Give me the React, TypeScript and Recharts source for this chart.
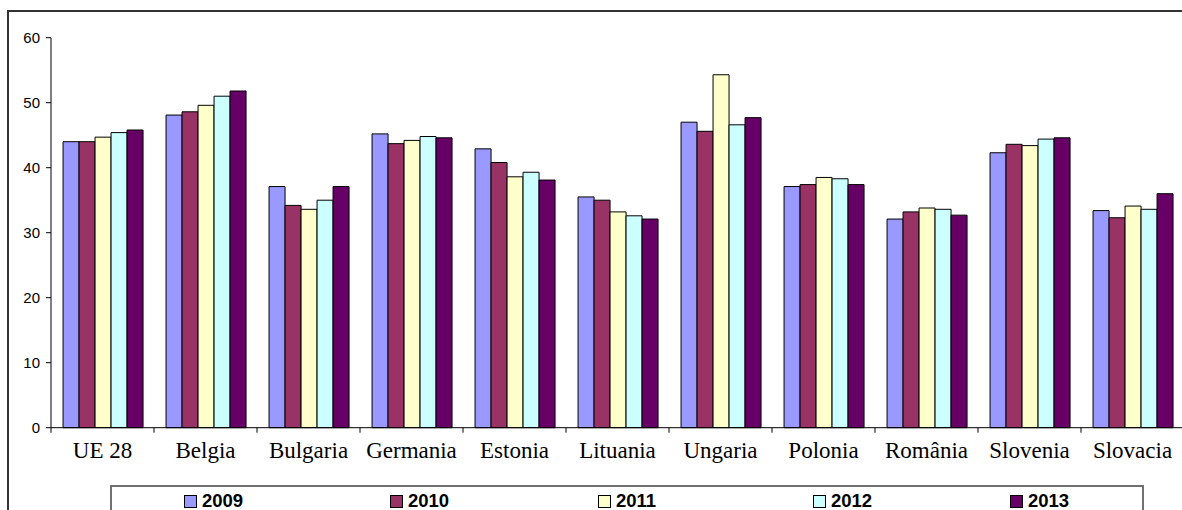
import { BarChart, Bar, XAxis, YAxis } from "recharts";

const categories = [
  "UE 28",
  "Belgia",
  "Bulgaria",
  "Germania",
  "Estonia",
  "Lituania",
  "Ungaria",
  "Polonia",
  "România",
  "Slovenia",
  "Slovacia",
];

const years = ["2009", "2010", "2011", "2012", "2013"];
const colors = ["#9999FF", "#993366", "#FFFFCC", "#CCFFFF", "#660066"];

const v2009 = [44.0, 48.1, 37.1, 45.2, 42.9, 35.5, 47.0, 37.1, 32.1, 42.3, 33.4];
const v2010 = [44.0, 48.6, 34.2, 43.7, 40.8, 35.0, 45.6, 37.4, 33.2, 43.6, 32.3];
const v2011 = [44.7, 49.6, 33.6, 44.2, 38.6, 33.2, 54.3, 38.5, 33.8, 43.4, 34.1];
const v2012 = [45.4, 51.0, 35.0, 44.8, 39.3, 32.6, 46.6, 38.3, 33.6, 44.4, 33.6];
const v2013 = [45.8, 51.8, 37.1, 44.6, 38.1, 32.1, 47.7, 37.4, 32.7, 44.6, 36.0];

const yTicks = [0, 10, 20, 30, 40, 50, 60];

const seriesValues = [v2009, v2010, v2011, v2012, v2013];

const data = categories.map((name, i) => {
  const row: Record<string, string | number> = { name };
  years.forEach((y, s) => {
    row["y" + y] = seriesValues[s][i];
  });
  return row;
});

// layout
const CHART_W = 1190;
const CHART_H = 510;
const MARGIN = { top: 37.7, right: 6, left: 0, bottom: 52.3 };
const Y_AXIS_W = 51;
const BAND = (CHART_W - MARGIN.left - MARGIN.right - Y_AXIS_W) / categories.length;
const LEGEND_X = [72, 278, 486, 701, 898];

function CategoryTick(props: any) {
  const { x, y, payload, index } = props;
  const left = x - BAND / 2;
  const right = x + BAND / 2;
  return (
    <g>
      <line x1={left} y1={y} x2={left} y2={y + 5} stroke="#000" />
      {index === categories.length - 1 && (
        <line x1={right} y1={y} x2={right} y2={y + 5} stroke="#000" />
      )}
      <text
        x={x}
        y={y + 29.8}
        textAnchor="middle"
        fontFamily="'Liberation Serif', 'Times New Roman', serif"
        fontSize={23}
        fill="#000"
      >
        {payload.value}
      </text>
    </g>
  );
}

export default function App() {
  return (
    <div
      style={{
        position: "absolute",
        left: 0,
        top: 0,
        width: 1182,
        height: 510,
        overflow: "hidden",
        background: "#fff",
      }}
    >
      {/* outer frame */}
      <div
        style={{
          position: "absolute",
          left: 7,
          top: 10,
          width: 1250,
          height: 600,
          borderLeft: "2px solid #333",
          borderTop: "2px solid #333",
        }}
      />
      <div style={{ position: "absolute", left: 0, top: 0 }}>
        <BarChart
          width={CHART_W}
          height={CHART_H}
          data={data}
          margin={MARGIN}
          barCategoryGap="11.7%"
          barGap={0}
        >
          <XAxis
            dataKey="name"
            height={30}
            axisLine={{ stroke: "#000" }}
            tickLine={false}
            tickSize={0}
            tickMargin={0}
            interval={0}
            tick={<CategoryTick />}
          />
          <YAxis
            width={Y_AXIS_W}
            domain={[0, 60]}
            ticks={yTicks}
            interval={0}
            axisLine={{ stroke: "#000" }}
            tickLine={{ stroke: "#000" }}
            tickSize={5}
            tickMargin={6}
            tick={{
              fill: "#000",
              fontSize: 15,
              fontFamily: "'Liberation Sans', Arial, sans-serif",
            }}
          />
          {years.map((y, s) => (
            <Bar
              key={y}
              dataKey={"y" + y}
              name={y}
              fill={colors[s]}
              stroke="#000"
              strokeWidth={1}
              isAnimationActive={false}
            />
          ))}
        </BarChart>
      </div>
      {/* legend */}
      <div
        style={{
          position: "absolute",
          left: 110,
          top: 485,
          width: 1030,
          height: 60,
          border: "2px solid #707070",
          background: "#fff",
        }}
      >
        {years.map((y, s) => (
          <div
            key={y}
            style={{
              position: "absolute",
              left: LEGEND_X[s],
              top: 7,
              height: 14,
              display: "flex",
              alignItems: "center",
            }}
          >
            <span
              style={{
                display: "inline-block",
                width: 11,
                height: 11,
                border: "1px solid #000",
                background: colors[s],
              }}
            />
            <span
              style={{
                marginLeft: 5,
                fontFamily: "'Liberation Sans', Arial, sans-serif",
                fontWeight: 700,
                fontSize: 18.5,
                lineHeight: "14px",
                color: "#000",
              }}
            >
              {y}
            </span>
          </div>
        ))}
      </div>
    </div>
  );
}
